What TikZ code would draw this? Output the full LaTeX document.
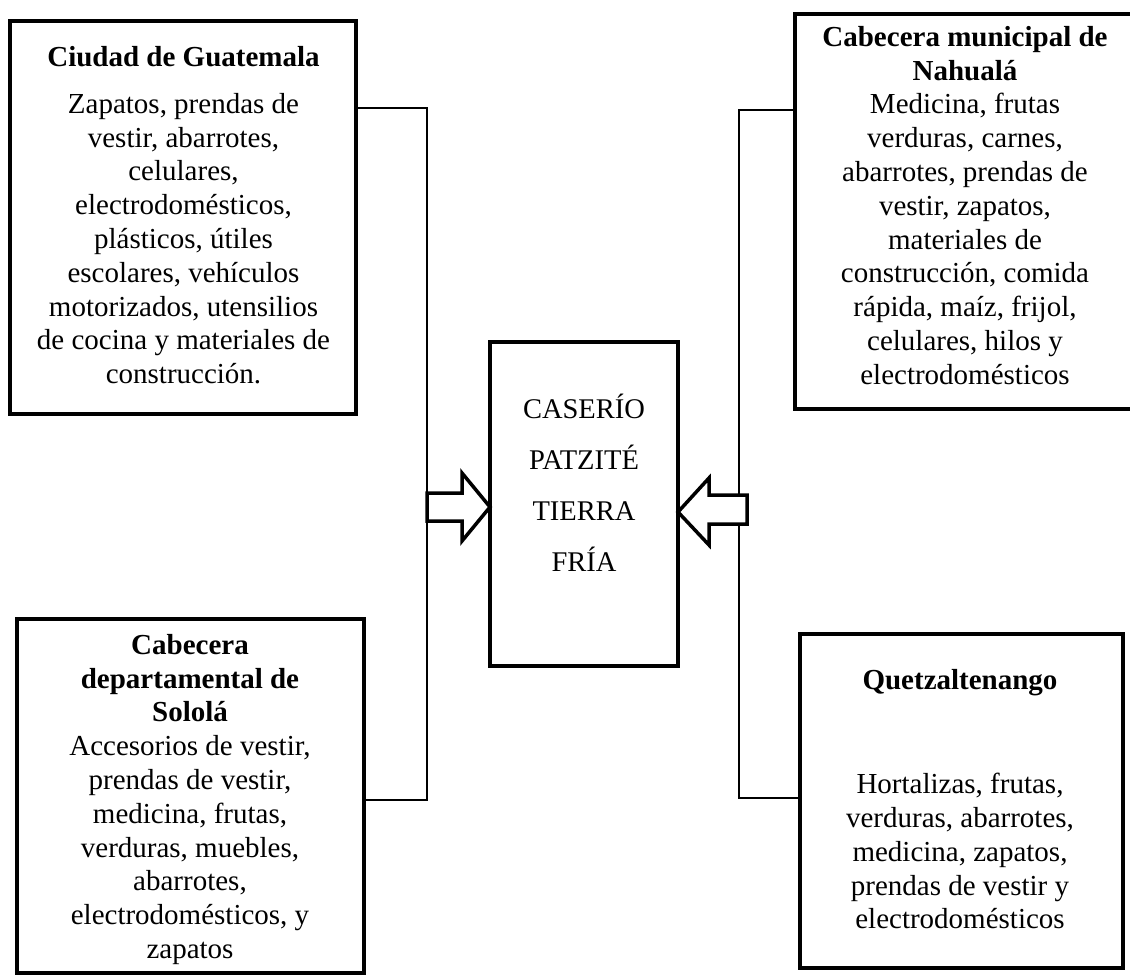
\documentclass[tikz,border=0pt]{standalone}
\usepackage{fontspec}
\setmainfont{Liberation Serif}
\begin{document}
\begin{tikzpicture}[x=1pt,y=-1pt,
  box/.style={draw, line width=4pt, fill=white, inner sep=0pt, outer sep=0pt, anchor=north west},
  txt/.style={align=center, inner sep=0pt, outer sep=0pt, anchor=north,
    font=\fontsize{29}{33.8}\selectfont, execute at begin node=\strut},
  ctxt/.style={align=center, inner sep=0pt, outer sep=0pt, anchor=north,
    font=\fontsize{28.5}{51}\selectfont, execute at begin node=\rule{0pt}{35.7pt}},
  link/.style={draw, line width=1.5pt},
  blockarrow/.style={draw, line width=3.5pt, fill=white, line join=miter}]
\useasboundingbox (0,0) rectangle (1130,975);
% boxes
\node[box, minimum width=346pt, minimum height=393pt] (guate) at (10,21) {};
\node[box, minimum width=345pt, minimum height=395pt] (nahuala) at (795,14) {};
\node[box, minimum width=347pt, minimum height=354pt] (solola) at (17,619) {};
\node[box, minimum width=323pt, minimum height=334pt] (quetzal) at (800,634) {};
\node[box, minimum width=188pt, minimum height=324pt] (caserio) at (490,342) {};
% texts
\node[txt] (guateT) at (183.5,43.2) {\textbf{Ciudad de Guatemala}};
\node[txt] (guateB) at (183.5,93.2) {Zapatos, prendas de\\vestir, abarrotes,\\celulares,\\electrodomésticos,\\plásticos, útiles\\escolares, vehículos\\motorizados, utensilios\\de cocina y materiales de\\construcción.};
\node[txt] (nahualaT) at (965,26.2) {\textbf{Cabecera municipal de}\\\textbf{Nahualá}\\Medicina, frutas\\verduras, carnes,\\abarrotes, prendas de\\vestir, zapatos,\\materiales de\\construcción, comida\\rápida, maíz, frijol,\\celulares, hilos y\\electrodomésticos};
\node[txt] (sololaT) at (190,634.2) {\textbf{Cabecera}\\\textbf{departamental de}\\\textbf{Sololá}\\Accesorios de vestir,\\prendas de vestir,\\medicina, frutas,\\verduras, muebles,\\abarrotes,\\electrodomésticos, y\\zapatos};
\node[txt] (quetzalT) at (960,666.2) {\textbf{Quetzaltenango}};
\node[txt] (quetzalB) at (960,773.2) {Hortalizas, frutas,\\verduras, abarrotes,\\medicina, zapatos,\\prendas de vestir y\\electrodomésticos};
\node[ctxt] (caserioT) at (584,394) {CASERÍO\\PATZITÉ\\TIERRA\\FRÍA};
% connectors
\coordinate (lt) at (427,108);
\coordinate (lb) at (427,800);
\coordinate (rt) at (739,110);
\coordinate (rb) at (739,798);
\draw[link] (guate.east |- lt) -- (lt) -- (lb) -- (solola.east |- lb);
\draw[link] (nahuala.west |- rt) -- (rt) -- (rb) -- (quetzal.west |- rb);
% block arrows
\coordinate (ltip) at (caserio.west |- 0,507);
\coordinate (rtip) at (caserio.east |- 0,512);
\draw[blockarrow] (427,493) -- (462,493) -- (462,473) -- (ltip) -- (462,541) -- (462,521) -- (427,521) -- cycle;
\draw[blockarrow] (747,495) -- (709,495) -- (709,478) -- (rtip) -- (709,545) -- (709,524) -- (747,524) -- cycle;
\end{tikzpicture}
\end{document}
